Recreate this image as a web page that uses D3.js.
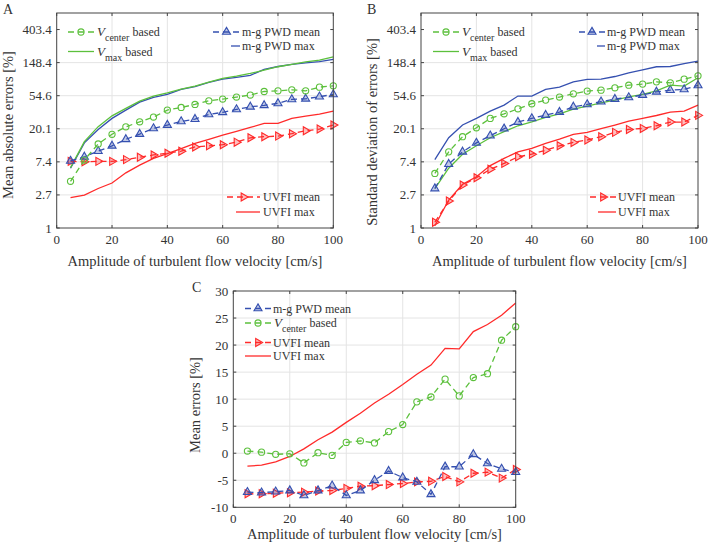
<!DOCTYPE html>
<html>
<head>
<meta charset="utf-8">
<script src="https://cdnjs.cloudflare.com/ajax/libs/d3/7.8.5/d3.min.js"></script>
<style>
  body { margin: 0; background: #fff; }
  svg { font-family: "Liberation Serif", "Times New Roman", serif; }
</style>
</head>
<body>
<div id="chart"></div>
<script>
// x values: amplitude of turbulent flow velocity (cm/s)
var velocity = [5, 10, 15, 20, 25, 30, 35, 40, 45, 50, 55, 60, 65, 70, 75, 80, 85, 90, 95, 100];
var xTicks = [0, 20, 40, 60, 80, 100];
var logTickLabels = ["1", "2.7", "7.4", "20.1", "54.6", "148.4", "403.4"];
var cTicks = [-10, -5, 0, 5, 10, 15, 20, 25, 30];

// panel A - mean absolute errors
var aCenterMean = [4.1, 7.8, 12.7, 17, 21.3, 24.8, 28.6, 35.3, 38.3, 41.9, 46.8, 49.3, 52.4, 55.7, 62, 63.3, 65.2, 63.3, 70.7, 73.6];
var aVmax = [6.2, 13.6, 21.4, 29.7, 37.2, 46.4, 54, 59.6, 66.6, 73, 82, 92, 98.5, 107, 118, 131, 141, 152, 160, 177];
var aPwdMean = [7.6, 8.6, 10.2, 12, 14.6, 17.1, 20.3, 22.5, 25.1, 26.9, 31, 33, 36.1, 39, 40.8, 43.3, 48.8, 49.7, 52.9, 56.8];
var aPwdMax = [6.1, 13.1, 19.7, 27.5, 35.3, 45, 51.9, 57, 66, 72, 81.6, 90, 94.9, 101, 121, 132, 141, 147, 153, 164];
var aUvfiMean = [7.5, 7.4, 7.5, 7.5, 7.9, 8.5, 9.1, 9.6, 10.2, 11.6, 12, 12.4, 13.4, 15.3, 15.8, 16.1, 17.3, 18.9, 19.9, 22.5];
var aUvfiMax = [2.5, 2.7, 3.3, 3.9, 5.3, 6.7, 8.2, 9.5, 11, 12.9, 14.6, 16.6, 18.6, 20.9, 23.6, 23.6, 27.5, 29.5, 31.3, 34.3];

// panel B - standard deviation of errors
var bCenterMean = [5.2, 10, 15.8, 20.7, 27.5, 31.6, 36.7, 42.8, 47.8, 52.4, 57.8, 62.7, 64.6, 69.3, 75, 77.5, 83, 80.6, 90, 99.6];
var bVmax = [3.3, 6.1, 9.3, 12, 15.3, 18.4, 22, 24.8, 28.3, 31.6, 36.4, 39.9, 44, 47.8, 52.8, 56.8, 63.3, 75, 73, 94];
var bPwdMean = [3.3, 6.9, 10, 13.1, 16.3, 20.1, 24.6, 27.5, 30.4, 33.3, 39, 41.9, 45.5, 49.3, 51.9, 55.7, 61.4, 64.6, 66, 74.6];
var bPwdMax = [7.9, 15.3, 22.5, 27.5, 34.3, 41.1, 54, 54, 66, 70.7, 83, 89.4, 90, 97.5, 109, 119, 131, 132, 144, 155];
var bUvfiMean = [1.19, 2.26, 3.66, 4.57, 5.9, 7.05, 8.6, 9.3, 10.5, 12, 13.3, 14.3, 15.8, 18, 19.7, 20.3, 22, 24.6, 24.6, 30.1];
var bUvfiMax = [1.07, 2.33, 3.74, 4.71, 6.6, 8.2, 10, 11.1, 12.9, 14.7, 17, 18, 20.1, 22.5, 25.3, 27.5, 30, 33.3, 34.3, 41.1];

// panel C - mean errors
var cPwdMean = [-7.2, -7.3, -7.1, -6.9, -7.8, -6.9, -6.0, -7.8, -6.9, -5.0, -3.3, -4.5, -5.3, -7.6, -2.5, -2.5, -0.2, -1.9, -2.9, -3.5];
var cCenterMean = [0.4, 0.2, -0.2, -0.1, -1.8, 0.1, -0.4, 2.0, 2.3, 1.9, 4.0, 5.3, 9.5, 10.4, 13.7, 10.6, 14.0, 14.7, 20.9, 23.4];
var cUvfiMean = [-7.5, -7.5, -7.4, -7.3, -7.2, -7.0, -6.9, -6.5, -6.1, -6.0, -5.8, -5.6, -5.3, -5.2, -4.3, -5.3, -3.7, -3.5, -4.6, -3.0];
var cUvfiMax = [-2.4, -2.2, -1.6, -0.6, 0.8, 2.5, 3.9, 5.7, 7.4, 9.3, 10.9, 12.7, 14.6, 16.3, 19.4, 19.3, 22.5, 23.8, 25.5, 27.8];

var green = "#5cc03c";
var blue = "#3550b0";
var red = "#ff2a2a";
var textColor = "#333";

var svg = d3.select("#chart")
  .append("svg")
  .attr("width", 709)
  .attr("height", 548);

// marker paths
var circleSym = d3.symbol().type(d3.symbolCircle).size(30);
var triSym = d3.symbol().type(d3.symbolTriangle).size(28);

function addMarker(g, kind, color, x, y) {
  if (kind === "circle") {
    g.append("path").attr("d", circleSym())
      .attr("transform", `translate(${x},${y})`)
      .attr("fill", "none").attr("stroke", color).attr("stroke-width", 1.1);
  } else if (kind === "up" || kind === "right") {
    var rot = kind === "right" ? 90 : 0;
    g.append("path").attr("d", triSym())
      .attr("transform", `translate(${x},${y}) rotate(${rot})`)
      .attr("fill", color).attr("fill-opacity", 0.3)
      .attr("stroke", color).attr("stroke-width", 1.1);
  }
}

// writes "V_sub based" or plain text
function addLabel(g, x, y, item) {
  var t = g.append("text")
    .attr("x", x).attr("y", y + 4)
    .attr("font-size", "12px").attr("fill", textColor);
  if (item.sub) {
    t.append("tspan").attr("font-style", "italic").attr("font-size", "13px").text("V");
    t.append("tspan").attr("font-size", "10px").attr("dy", 5).text(item.sub);
    t.append("tspan").attr("dy", -5).text(" based");
  } else {
    t.text(item.label);
  }
}

function drawPanel(cfg) {
  var g = svg.append("g");
  var box = cfg.box;

  var x = d3.scaleLinear().domain([0, 100]).range([box.left, box.right]);
  var y = cfg.y.range([box.bottom, box.top]);

  // grid
  g.selectAll(".gx").data(xTicks.slice(1, -1)).enter()
    .append("line")
    .attr("x1", d => x(d)).attr("x2", d => x(d))
    .attr("y1", box.top).attr("y2", box.bottom)
    .attr("stroke", "#e4e4e4").attr("stroke-width", 1);
  g.selectAll(".gy").data(cfg.yTicks.slice(1, -1)).enter()
    .append("line")
    .attr("x1", box.left).attr("x2", box.right)
    .attr("y1", d => y(d)).attr("y2", d => y(d))
    .attr("stroke", "#e4e4e4").attr("stroke-width", 1);

  // series
  cfg.series.forEach(function(s) {
    var pts = velocity.map((v, i) => [v, s.values[i]]);
    g.append("path")
      .datum(pts)
      .attr("d", d3.line().x(d => x(d[0])).y(d => y(d[1])))
      .attr("fill", "none")
      .attr("stroke", s.color)
      .attr("stroke-width", 1.3)
      .attr("stroke-dasharray", s.dashed ? "6,4" : null);
    if (s.marker) {
      pts.forEach(p => addMarker(g, s.marker, s.color, x(p[0]), y(p[1])));
    }
  });

  // frame and inward ticks
  g.append("rect")
    .attr("x", box.left).attr("y", box.top)
    .attr("width", box.right - box.left).attr("height", box.bottom - box.top)
    .attr("fill", "none").attr("stroke", "#444").attr("stroke-width", 1);

  xTicks.forEach(function(t) {
    g.append("line").attr("x1", x(t)).attr("x2", x(t)).attr("y1", box.bottom).attr("y2", box.bottom - 3).attr("stroke", "#444");
    g.append("line").attr("x1", x(t)).attr("x2", x(t)).attr("y1", box.top).attr("y2", box.top + 3).attr("stroke", "#444");
    g.append("text")
      .attr("x", x(t)).attr("y", box.bottom + 16)
      .attr("text-anchor", "middle").attr("font-size", "13px").attr("fill", textColor)
      .text(t);
  });
  cfg.yTicks.forEach(function(t, i) {
    g.append("line").attr("x1", box.left).attr("x2", box.left + 3).attr("y1", y(t)).attr("y2", y(t)).attr("stroke", "#444");
    g.append("line").attr("x1", box.right).attr("x2", box.right - 3).attr("y1", y(t)).attr("y2", y(t)).attr("stroke", "#444");
    g.append("text")
      .attr("x", box.left - 5).attr("y", y(t))
      .attr("dy", "0.35em")
      .attr("text-anchor", "end").attr("font-size", "13px").attr("fill", textColor)
      .text(cfg.yLabels[i]);
  });

  // axis titles
  g.append("text")
    .attr("x", (box.left + box.right) / 2).attr("y", cfg.xTitleY)
    .attr("text-anchor", "middle").attr("font-size", "14.5px").attr("fill", textColor)
    .text("Amplitude of turbulent flow velocity [cm/s]");
  g.append("text")
    .attr("transform", `translate(${cfg.yTitle[0]},${cfg.yTitle[1]}) rotate(-90)`)
    .attr("text-anchor", "middle").attr("font-size", "14.5px").attr("fill", textColor)
    .text(cfg.yTitleText);

  // panel letter
  g.append("text")
    .attr("x", cfg.letter[0]).attr("y", cfg.letter[1])
    .attr("font-size", "14px").attr("fill", textColor)
    .text(cfg.letterText);

  // legends
  cfg.legend.forEach(function(item) {
    g.append("line")
      .attr("x1", item.x1).attr("x2", item.x2)
      .attr("y1", item.y).attr("y2", item.y)
      .attr("stroke", item.color).attr("stroke-width", 1.3)
      .attr("stroke-dasharray", item.dashed ? "6,4" : null);
    if (item.marker) addMarker(g, item.marker, item.color, (item.x1 + item.x2) / 2, item.y);
    addLabel(g, item.tx, item.y, item);
  });
}

var logTicks = logTickLabels.map((d, i) => Math.exp(i));

// A
drawPanel({
  box: { left: 56.7, right: 333.3, top: 13, bottom: 228 },
  y: d3.scaleLog().domain([1, Math.exp(6.5)]),
  yTicks: logTicks, yLabels: logTickLabels,
  xTitleY: 266, yTitle: [13, 125], yTitleText: "Mean absolute errors [%]",
  letter: [3, 14], letterText: "A",
  series: [
    { values: aUvfiMax, color: red },
    { values: aPwdMax, color: blue },
    { values: aVmax, color: green },
    { values: aUvfiMean, color: red, dashed: true, marker: "right" },
    { values: aPwdMean, color: blue, dashed: true, marker: "up" },
    { values: aCenterMean, color: green, dashed: true, marker: "circle" }
  ],
  legend: [
    { y: 32, x1: 68, x2: 94, color: green, dashed: true, marker: "circle", tx: 97, sub: "center" },
    { y: 51.5, x1: 68, x2: 94, color: green, tx: 97, sub: "max" },
    { y: 32, x1: 213, x2: 240, color: blue, dashed: true, marker: "up", tx: 242, label: "m-g PWD mean" },
    { y: 46, x1: 231, x2: 240, color: blue, tx: 242, label: "m-g PWD max" },
    { y: 197, x1: 227, x2: 260, color: red, dashed: true, marker: "right", tx: 263, label: "UVFI mean" },
    { y: 212, x1: 236, x2: 260, color: red, tx: 263, label: "UVFI max" }
  ]
});

// B
drawPanel({
  box: { left: 421, right: 698, top: 13, bottom: 228 },
  y: d3.scaleLog().domain([1, Math.exp(6.5)]),
  yTicks: logTicks, yLabels: logTickLabels,
  xTitleY: 266, yTitle: [377, 132], yTitleText: "Standard deviation of errors [%]",
  letter: [367, 14], letterText: "B",
  series: [
    { values: bUvfiMax, color: red },
    { values: bPwdMax, color: blue },
    { values: bVmax, color: green },
    { values: bUvfiMean, color: red, dashed: true, marker: "right" },
    { values: bPwdMean, color: blue, dashed: true, marker: "up" },
    { values: bCenterMean, color: green, dashed: true, marker: "circle" }
  ],
  legend: [
    { y: 32, x1: 433, x2: 459, color: green, dashed: true, marker: "circle", tx: 462, sub: "center" },
    { y: 51.5, x1: 433, x2: 459, color: green, tx: 462, sub: "max" },
    { y: 32, x1: 579, x2: 605, color: blue, dashed: true, marker: "up", tx: 607, label: "m-g PWD mean" },
    { y: 46, x1: 597, x2: 605, color: blue, tx: 607, label: "m-g PWD max" },
    { y: 197, x1: 590, x2: 616, color: red, dashed: true, marker: "right", tx: 618, label: "UVFI mean" },
    { y: 212, x1: 598, x2: 616, color: red, tx: 618, label: "UVFI max" }
  ]
});

// C
drawPanel({
  box: { left: 233.3, right: 515.7, top: 291, bottom: 507.3 },
  y: d3.scaleLinear().domain([-10, 30]),
  yTicks: cTicks, yLabels: cTicks,
  xTitleY: 539, yTitle: [200, 405], yTitleText: "Mean errors [%]",
  letter: [192, 292], letterText: "C",
  series: [
    { values: cUvfiMax, color: red },
    { values: cUvfiMean, color: red, dashed: true, marker: "right" },
    { values: cCenterMean, color: green, dashed: true, marker: "circle" },
    { values: cPwdMean, color: blue, dashed: true, marker: "up" }
  ],
  legend: [
    { y: 308.5, x1: 245, x2: 271, color: blue, dashed: true, marker: "up", tx: 273, label: "m-g PWD mean" },
    { y: 323, x1: 245, x2: 271, color: green, dashed: true, marker: "circle", tx: 274, sub: "center" },
    { y: 342.5, x1: 245, x2: 271, color: red, dashed: true, marker: "right", tx: 273, label: "UVFI mean" },
    { y: 356, x1: 245, x2: 271, color: red, tx: 273, label: "UVFI max" }
  ]
});
</script>
</body>
</html>
